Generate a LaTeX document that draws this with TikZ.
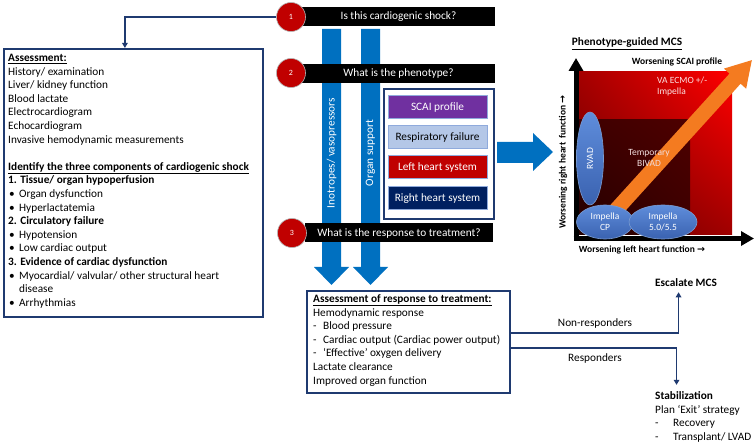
\documentclass[tikz,border=0pt]{standalone}
\usepackage{fontspec}
\setmainfont{Carlito}
\newfontfamily\djv{DejaVu Sans}
\usetikzlibrary{arrows.meta,shapes.geometric,shadings}
\definecolor{navy}{HTML}{1F3A70}
\definecolor{blu}{HTML}{0070C0}
\definecolor{cred}{HTML}{C00000}
\definecolor{scai}{HTML}{7030A0}
\definecolor{resp}{HTML}{B4C7E7}
\definecolor{lhs}{HTML}{C00000}
\definecolor{rhs}{HTML}{002060}
\definecolor{phenb}{HTML}{8FAADC}
\definecolor{orng}{HTML}{F47B20}
\definecolor{ellb}{HTML}{7A9BD0}
\definecolor{ellt}{HTML}{5F8DDB}
\definecolor{ellbot}{HTML}{3A62B0}
\definecolor{pinkw}{HTML}{FBE3E3}
\definecolor{bivad}{HTML}{F0DCDC}
\definecolor{sqUL}{HTML}{A50000}
\definecolor{sqUR}{HTML}{FF0000}
\definecolor{sqLL}{HTML}{5F0000}
\definecolor{sqLR}{HTML}{A00000}
\definecolor{inUL}{HTML}{3E0000}
\definecolor{inUR}{HTML}{4E0000}
\definecolor{inLL}{HTML}{240000}
\definecolor{inLR}{HTML}{3C0000}
\begin{document}
\begin{tikzpicture}[x=1pt,y=-1pt,
  every node/.style={inner sep=0pt},
  body/.style={font=\fontsize{11.3}{13.6}\selectfont, anchor=base west},
  smalltxt/.style={font=\fontsize{9.5}{11}\selectfont},
  navybox/.style={draw=navy, line width=1.8pt, fill=white, anchor=north west},
  conn/.style={draw=navy, line width=1.8pt, -{Triangle[length=5pt,width=5.5pt]}},
  qbar/.style={fill=black, text=white, minimum width=193pt, minimum height=19pt, font=\fontsize{11.3}{13}\selectfont},
  numc/.style={circle, fill=cred, draw=gray!60, line width=0.6pt, minimum size=29pt, text=white, font=\fontsize{8}{9}\selectfont},
  phen/.style={minimum width=99pt, minimum height=23pt, draw=phenb, line width=1pt, font=\fontsize{11.3}{13}\selectfont, text=white},
  ell/.style={ellipse, draw=ellb, line width=0.6pt, top color=ellt, bottom color=ellbot, text=white, font=\fontsize{9.5}{11}\selectfont, align=center},
  bartxt/.style={text=white, font=\fontsize{11.3}{13}\selectfont, rotate=90},
]
\useasboundingbox (0,0) rectangle (755,446);

% ---------- vertical blue arrows ----------
\fill[blu] (322,29) -- (341,29) -- (341,267) -- (349,267) -- (331.5,285) -- (314,267) -- (322,267) -- cycle;
\fill[blu] (361,29) -- (380,29) -- (380,267) -- (388,267) -- (370.5,285) -- (353,267) -- (361,267) -- cycle;
\node[bartxt] (ino) at (331.5,153) {Inotropes/ vasopressors};
\node[bartxt] (org) at (370.5,153) {Organ support};

% ---------- question bars ----------
\node[qbar] (b1) at (398.5,16.5) {Is this cardiogenic shock?};
\node[qbar] (b2) at (398.5,73.5) {What is the phenotype?};
\node[qbar, minimum width=188pt] (b3) at (399,233) {What is the response to treatment?};
\node[numc] (c1) at (291,17) {1};
\node[numc] (c2) at (291,73) {2};
\node[numc] (c3) at (292,233) {3};

% ---------- phenotype box ----------
\node[navybox, minimum width=110pt, minimum height=130pt] (pbox) at (383,88) {};
\node[phen, fill=scai] (p1) at (437.5,107) {SCAI profile};
\node[phen, fill=resp, text=black] (p2) at (437.5,137.5) {Respiratory failure};
\node[phen, fill=lhs] (p3) at (437.5,167.5) {Left heart system};
\node[phen, fill=rhs] (p4) at (437.5,198.5) {Right heart system};

% big arrow to the right panel
\fill[blu] (497,142) -- (533,142) -- (533,133) -- (553,152) -- (533,171) -- (533,163) -- (497,163) -- cycle;

% ---------- left assessment box ----------
\node[navybox, minimum width=259pt, minimum height=268pt] (abox) at (3,48) {};
\draw[conn] (c1.west) -| ([xshift=-8.5pt]abox.north);
\node[body] (l1) at (8,61.5) {\underline{\textbf{Assessment:}}};
\node[body] (l2) at (8,75.1) {History/ examination};
\node[body] (l3) at (8,88.7) {Liver/ kidney function};
\node[body] (l4) at (8,102.3) {Blood lactate};
\node[body] (l5) at (8,115.9) {Electrocardiogram};
\node[body] (l6) at (8,129.5) {Echocardiogram};
\node[body] (l7) at (8,143.1) {Invasive hemodynamic measurements};
\node[body] (l8) at (8,170.3) {\underline{\textbf{Identify the three components of cardiogenic shock}}};
\node[body] (l9) at (8,183.9) {\textbf{1. Tissue/ organ hypoperfusion}};
\node[body] (l10) at (9,197.5) {\makebox[10pt][l]{•}Organ dysfunction};
\node[body] (l11) at (9,211.1) {\makebox[10pt][l]{•}Hyperlactatemia};
\node[body] (l12) at (8,224.7) {\textbf{2. Circulatory failure}};
\node[body] (l13) at (9,238.3) {\makebox[10pt][l]{•}Hypotension};
\node[body] (l14) at (9,251.9) {\makebox[10pt][l]{•}Low cardiac output};
\node[body] (l15) at (8,265.5) {\textbf{3. Evidence of cardiac dysfunction}};
\node[body] (l16) at (9,279.1) {\makebox[10pt][l]{•}Myocardial/ valvular/ other structural heart};
\node[body] (l17) at (19,292.7) {disease};
\node[body] (l18) at (9,306.3) {\makebox[10pt][l]{•}Arrhythmias};

% ---------- response box ----------
\node[navybox, minimum width=203pt, minimum height=102pt] (rbox) at (306,290) {};
\node[body] (r1) at (313,302.5) {\underline{\textbf{Assessment of response to treatment:}}};
\node[body] (r2) at (313,316.1) {Hemodynamic response};
\node[body] (r3) at (313,329.7) {\makebox[10pt][l]{-}Blood pressure};
\node[body] (r4) at (313,343.3) {\makebox[10pt][l]{-}Cardiac output (Cardiac power output)};
\node[body] (r5) at (313,356.9) {\makebox[10pt][l]{-}‘Effective’ oxygen delivery};
\node[body] (r6) at (313,370.5) {Lactate clearance};
\node[body] (r7) at (313,384.1) {Improved organ function};

% ---------- outcomes ----------
\node[body] (esc) at (655,286.5) {\textbf{Escalate MCS}};
\node[body] (s1) at (655,399.5) {\textbf{Stabilization}};
\node[body] (s2) at (655,413.1) {Plan ‘Exit’ strategy};
\node[body] (s3) at (655,426.7) {\makebox[18pt][l]{-}Recovery};
\node[body] (s4) at (655,440.3) {\makebox[18pt][l]{-}Transplant/ LVAD};
\draw[conn] ([yshift=9pt]rbox.east) -| ([xshift=-7.5pt,yshift=-5.5pt]esc.south);
\draw[conn] ([yshift=-6pt]rbox.east) -| ([xshift=-7.5pt,yshift=6.5pt]s1.north);
\node[font=\fontsize{11.3}{13}\selectfont, anchor=base] (nr) at (595,326.5) {Non-responders};
\node[font=\fontsize{11.3}{13}\selectfont, anchor=base] (rs) at (595,361.5) {Responders};

% ---------- right panel ----------
\node[font=\fontsize{11.3}{13}\selectfont, anchor=base] (ttl) at (627,45.5) {\underline{\textbf{Phenotype-guided MCS}}};
\shade[upper left=sqUL, upper right=sqUR, lower left=sqLL, lower right=sqLR]
  (579,72) rectangle (732,235);
\shade[upper left=inUL, upper right=inUR, lower left=inLL, lower right=inLR]
  (579,120) rectangle (690,235);
\begin{scope}[shift={(596,232)}, rotate=47.8]
  \fill[orng] (0,-7.5) -- (207,-7.5) -- (207,-15) -- (232,0) -- (207,15) -- (207,7.5) -- (0,7.5) -- cycle;
\end{scope}
\draw[line width=5pt, -{Triangle[length=13pt,width=14pt]}] (576,241) -- (576,58);
\draw[line width=5pt, -{Triangle[length=13pt,width=14pt]}] (573.5,238.5) -- (754,238.5);
\node[smalltxt, font=\fontsize{9.5}{11}\selectfont\bfseries] (scaip) at (677,62) {Worsening SCAI profile};
\node[smalltxt, text=pinkw, align=left, anchor=west] (vaecmo) at (657,86.5) {VA ECMO +/-\\Impella};
\node[smalltxt, text=bivad, align=center] (biv) at (649,157.5) {Temporary\\BIVAD};
\node[ell, minimum width=93pt, minimum height=27pt, rotate=90] (rvad) at (590,158.5) {RVAD};
\node[ell, minimum width=57pt, minimum height=34pt] (icp) at (605,222) {Impella\\CP};
\node[ell, minimum width=68pt, minimum height=34pt] (i55) at (663,222) {Impella\\5.0/5.5};
\node[font=\fontsize{9.5}{11}\selectfont\bfseries] (xlab) at (642,250) {Worsening left heart function {\djv →}};
\node[font=\fontsize{9.5}{11}\selectfont\bfseries, rotate=90] (ylab) at (563,162) {Worsening right heart\ \ function {\djv →}};
\end{tikzpicture}
\end{document}
